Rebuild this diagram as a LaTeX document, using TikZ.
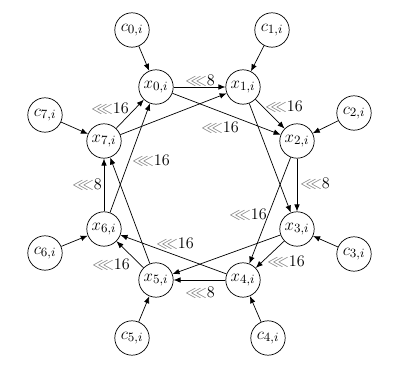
\documentclass[tikz,border=0pt]{standalone}
\usepackage{amssymb}
\usetikzlibrary{arrows.meta}
\newcommand{\xv}[1]{$x_{#1,i}$}
\newcommand{\cv}[1]{$c_{#1,i}$}
\newcommand{\rot}[1]{\textcolor{black!55}{$\lll$}#1}
\begin{document}
\begin{tikzpicture}[x={(0.025cm,0)},y={(0,-0.025cm)},
  xn/.style={circle,draw,line width=0.5pt,minimum size=0.86cm,inner sep=0pt,font=\fontsize{13}{15}\selectfont},
  arr/.style={-{Latex[length=5pt,width=4pt]},line width=0.5pt},
  lbl/.style={inner sep=0pt,font=\fontsize{11.5}{14}\selectfont}]
\useasboundingbox (0,0) rectangle (400,372);
\node[xn] (x0) at (156,87) {\xv{0}};
\node[xn] (x1) at (243,87) {\xv{1}};
\node[xn] (x2) at (297,141) {\xv{2}};
\node[xn] (x3) at (297,229) {\xv{3}};
\node[xn] (x4) at (243,280) {\xv{4}};
\node[xn] (x5) at (156,280) {\xv{5}};
\node[xn] (x6) at (104,229) {\xv{6}};
\node[xn] (x7) at (104,141) {\xv{7}};
\node[xn] (c0) at (132,30) {\cv{0}};
\node[xn] (c1) at (272,30) {\cv{1}};
\node[xn] (c2) at (354,113) {\cv{2}};
\node[xn] (c3) at (354,254) {\cv{3}};
\node[xn] (c4) at (268,338) {\cv{4}};
\node[xn] (c5) at (132,338) {\cv{5}};
\node[xn] (c6) at (45,253) {\cv{6}};
\node[xn] (c7) at (45,115) {\cv{7}};
\foreach \k in {0,...,7} \draw[arr] (c\k) -- (x\k);
\draw[arr] (x0) -- (x1);
\draw[arr] (x1) -- (x2);
\draw[arr] (x2) -- (x3);
\draw[arr] (x3) -- (x4);
\draw[arr] (x4) -- (x5);
\draw[arr] (x5) -- (x6);
\draw[arr] (x6) -- (x7);
\draw[arr] (x7) -- (x0);
\draw[arr] (x0) -- (x2);
\draw[arr] (x1) -- (x3);
\draw[arr] (x2) -- (x4);
\draw[arr] (x3) -- (x5);
\draw[arr] (x4) -- (x6);
\draw[arr] (x5) -- (x7);
\draw[arr] (x6) -- (x0);
\draw[arr] (x7) -- (x1);
\node[lbl] (l01) at (200,80) {\rot{8}};
\node[lbl] (l12) at (284,106) {\rot{16}};
\node[lbl] (l02) at (220,127) {\rot{16}};
\node[lbl] (l23) at (315,183) {\rot{8}};
\node[lbl] (l13) at (248,214) {\rot{16}};
\node[lbl] (l34) at (286,261) {\rot{16}};
\node[lbl] (l45) at (200,292) {\rot{8}};
\node[lbl] (l35) at (175,243) {\rot{16}};
\node[lbl] (l56) at (111,264) {\rot{16}};
\node[lbl] (l67) at (87,184) {\rot{8}};
\node[lbl] (l60) at (151,160) {\rot{16}};
\node[lbl] (l70) at (110,108) {\rot{16}};
\end{tikzpicture}
\end{document}
